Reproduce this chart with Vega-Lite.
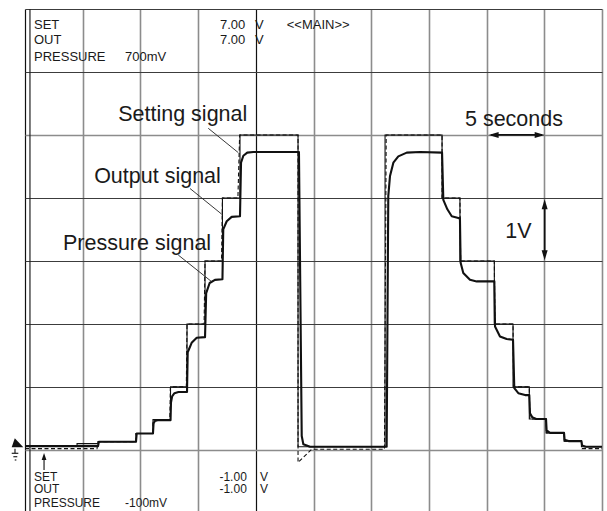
{
  "$schema": "https://vega.github.io/schema/vega-lite/v6.json",
  "width": 577,
  "height": 502,
  "autosize": {"type": "none"},
  "padding": {"left": 25, "top": 9, "right": 5, "bottom": 0},
  "config": {"view": {"stroke": null}, "font": "Liberation Sans", "text": {"font": "Liberation Sans"}},
  "datasets": {
    "setting": [
      {"t": 0, "v": 0.02}, {"t": 6.24, "v": 0.02}, {"t": 6.33, "v": 0.13}, {"t": 9.62, "v": 0.13},
      {"t": 9.62, "v": 0.26}, {"t": 11.09, "v": 0.26}, {"t": 11.09, "v": 0.48}, {"t": 12.55, "v": 0.48},
      {"t": 12.6, "v": 1.0}, {"t": 13.98, "v": 1.0}, {"t": 14.04, "v": 2.0}, {"t": 15.52, "v": 2.0},
      {"t": 15.6, "v": 3.0}, {"t": 17.03, "v": 3.0}, {"t": 17.11, "v": 4.0}, {"t": 18.45, "v": 4.0},
      {"t": 18.6, "v": 5.0}, {"t": 23.66, "v": 5.0}, {"t": 23.66, "v": -0.2}, {"t": 24.84, "v": 0.01},
      {"t": 31.15, "v": 0.01}, {"t": 31.3, "v": 5.0}, {"t": 36.14, "v": 5.0}, {"t": 36.14, "v": 4.0},
      {"t": 37.69, "v": 4.0}, {"t": 37.75, "v": 3.0}, {"t": 40.67, "v": 3.0}, {"t": 40.72, "v": 2.0},
      {"t": 42.29, "v": 2.0}, {"t": 42.34, "v": 1.0}, {"t": 43.7, "v": 1.0}, {"t": 43.75, "v": 0.49},
      {"t": 45.15, "v": 0.49}, {"t": 45.2, "v": 0.27}, {"t": 46.71, "v": 0.27}, {"t": 46.76, "v": 0.14},
      {"t": 48.22, "v": 0.14}, {"t": 48.27, "v": 0.02}, {"t": 50, "v": 0.02}
    ],
    "output": [
      {"t": 0, "v": 0.06}, {"t": 4.51, "v": 0.06}, {"t": 4.51, "v": 0.1}, {"t": 6.33, "v": 0.1},
      {"t": 6.33, "v": 0.13}, {"t": 9.62, "v": 0.13}, {"t": 9.62, "v": 0.26}, {"t": 11.09, "v": 0.26},
      {"t": 11.09, "v": 0.48}, {"t": 12.61, "v": 0.48}, {"t": 12.61, "v": 1.0}, {"t": 14.04, "v": 1.0},
      {"t": 14.04, "v": 2.0}, {"t": 15.6, "v": 2.0}, {"t": 15.6, "v": 3.0}, {"t": 17.11, "v": 3.0},
      {"t": 17.11, "v": 4.0}, {"t": 18.63, "v": 4.0}, {"t": 18.63, "v": 5.0}, {"t": 23.66, "v": 5.0},
      {"t": 23.66, "v": 0.05}, {"t": 31.2, "v": 0.05}, {"t": 31.2, "v": 5.0}, {"t": 36.14, "v": 5.0},
      {"t": 36.14, "v": 4.0}, {"t": 37.69, "v": 4.0}, {"t": 37.69, "v": 3.0}, {"t": 40.67, "v": 3.0},
      {"t": 40.67, "v": 2.0}, {"t": 42.29, "v": 2.0}, {"t": 42.29, "v": 1.0}, {"t": 43.7, "v": 1.0},
      {"t": 43.7, "v": 0.49}, {"t": 45.15, "v": 0.49}, {"t": 45.15, "v": 0.27}, {"t": 46.71, "v": 0.27},
      {"t": 46.71, "v": 0.14}, {"t": 48.22, "v": 0.14}, {"t": 48.22, "v": 0.05}, {"t": 50, "v": 0.05}
    ],
    "pressure": [
      {"t": 0, "v": 0.06}, {"t": 6.33, "v": 0.06}, {"t": 6.4, "v": 0.13}, {"t": 9.62, "v": 0.13},
      {"t": 9.68, "v": 0.26}, {"t": 11.09, "v": 0.26}, {"t": 11.14, "v": 0.42}, {"t": 11.25, "v": 0.46},
      {"t": 11.5, "v": 0.47}, {"t": 12.61, "v": 0.47}, {"t": 12.65, "v": 0.75}, {"t": 12.75, "v": 0.85},
      {"t": 12.95, "v": 0.9}, {"t": 13.3, "v": 0.92}, {"t": 14.04, "v": 0.92}, {"t": 14.1, "v": 1.55},
      {"t": 14.44, "v": 1.7}, {"t": 14.88, "v": 1.78}, {"t": 15.6, "v": 1.79}, {"t": 15.7, "v": 2.49},
      {"t": 16.0, "v": 2.65}, {"t": 16.46, "v": 2.7}, {"t": 17.11, "v": 2.71}, {"t": 17.18, "v": 3.5},
      {"t": 17.48, "v": 3.63}, {"t": 17.91, "v": 3.7}, {"t": 18.63, "v": 3.71}, {"t": 18.72, "v": 4.56},
      {"t": 18.92, "v": 4.67}, {"t": 19.26, "v": 4.72}, {"t": 19.78, "v": 4.73}, {"t": 23.74, "v": 4.73},
      {"t": 23.98, "v": 0.22}, {"t": 24.12, "v": 0.09}, {"t": 24.7, "v": 0.05}, {"t": 31.34, "v": 0.05},
      {"t": 31.48, "v": 4.03}, {"t": 31.63, "v": 4.35}, {"t": 31.92, "v": 4.56}, {"t": 32.35, "v": 4.66},
      {"t": 33.08, "v": 4.72}, {"t": 34.23, "v": 4.73}, {"t": 36.14, "v": 4.72}, {"t": 36.25, "v": 3.97},
      {"t": 36.6, "v": 3.82}, {"t": 36.98, "v": 3.71}, {"t": 37.55, "v": 3.68}, {"t": 37.69, "v": 3.68},
      {"t": 37.75, "v": 2.97}, {"t": 37.98, "v": 2.81}, {"t": 38.56, "v": 2.7}, {"t": 39.14, "v": 2.675},
      {"t": 40.67, "v": 2.675}, {"t": 40.73, "v": 1.96}, {"t": 41.16, "v": 1.8}, {"t": 41.74, "v": 1.76},
      {"t": 42.29, "v": 1.75}, {"t": 42.4, "v": 0.98}, {"t": 42.75, "v": 0.9}, {"t": 43.33, "v": 0.87},
      {"t": 43.7, "v": 0.87}, {"t": 43.76, "v": 0.58}, {"t": 43.95, "v": 0.52}, {"t": 44.3, "v": 0.49},
      {"t": 45.15, "v": 0.49}, {"t": 45.2, "v": 0.31}, {"t": 45.5, "v": 0.27}, {"t": 46.71, "v": 0.27},
      {"t": 46.76, "v": 0.16}, {"t": 47.1, "v": 0.14}, {"t": 48.22, "v": 0.14}, {"t": 48.27, "v": 0.07},
      {"t": 48.6, "v": 0.05}, {"t": 50, "v": 0.05}
    ],
    "leaders": [
      {"t": 15.88, "v": 5.106, "t2": 18.48, "v2": 4.72},
      {"t": 14.3, "v": 4.15, "t2": 17.13, "v2": 3.73},
      {"t": 13.28, "v": 3.094, "t2": 16.18, "v2": 2.67}
    ],
    "arrows": [
      {"t": 40.4, "v": 5.0, "t2": 44.8, "v2": 5.0},
      {"t": 45.03, "v": 3.9, "t2": 45.03, "v2": 3.08}
    ],
    "thin": [
      {"t": 0.43, "v": -0.97, "t2": 0.43, "v2": 7},
      {"t": -0.867, "v": 0.02, "t2": -0.867, "v2": -0.054},
      {"t": -1.15, "v": -0.054, "t2": -0.58, "v2": -0.054},
      {"t": -1.01, "v": -0.108, "t2": -0.67, "v2": -0.108},
      {"t": -0.89, "v": -0.16, "t2": -0.75, "v2": -0.16},
      {"t": 1.65, "v": -0.12, "t2": 1.65, "v2": -0.32}
    ],
    "heads": [
      {"t": 40.61, "v": 5.0, "dir": "left"},
      {"t": 44.6, "v": 5.0, "dir": "right"},
      {"t": 45.03, "v": 3.9, "dir": "up"},
      {"t": 45.03, "v": 3.09, "dir": "down"},
      {"t": 1.65, "v": -0.105, "dir": "trigger"},
      {"t": -0.65, "v": 0.11, "dir": "flag"}
    ],
    "notes": [
      {"t": 13.67, "v": 5.22, "label": "Setting signal"},
      {"t": 11.48, "v": 4.23, "label": "Output signal"},
      {"t": 9.71, "v": 3.18, "label": "Pressure signal"},
      {"t": 42.37, "v": 5.14, "label": "5 seconds"},
      {"t": 42.75, "v": 3.36, "label": "1V"}
    ],
    "header": [
      {"t": 0.78, "v": 6.68, "label": "SET"},
      {"t": 0.78, "v": 6.44, "label": "OUT"},
      {"t": 0.78, "v": 6.17, "label": "PRESSURE"},
      {"t": 8.67, "v": 6.17, "label": "700mV"},
      {"t": 16.9, "v": 6.68, "label": "7.00"},
      {"t": 16.9, "v": 6.44, "label": "7.00"},
      {"t": 19.93, "v": 6.68, "label": "V"},
      {"t": 19.93, "v": 6.44, "label": "V"},
      {"t": 22.68, "v": 6.68, "label": "<<MAIN>>"}
    ],
    "footer": [
      {"t": 0.78, "v": -0.49, "label": "SET"},
      {"t": 0.78, "v": -0.69, "label": "OUT"},
      {"t": 0.78, "v": -0.9, "label": "PRESSURE"},
      {"t": 8.67, "v": -0.9, "label": "-100mV"},
      {"t": 16.85, "v": -0.49, "label": "-1.00"},
      {"t": 16.85, "v": -0.69, "label": "-1.00"},
      {"t": 20.36, "v": -0.49, "label": "V"},
      {"t": 20.36, "v": -0.69, "label": "V"}
    ]
  },
  "encoding": {
    "x": {
      "field": "t", "type": "quantitative",
      "scale": {"domain": [0, 50], "nice": false, "zero": false},
      "axis": {
        "values": [0, 5, 10, 15, 20, 25, 30, 35, 40, 45, 50],
        "grid": true, "labels": false, "ticks": false, "domain": false, "title": null,
        "gridOpacity": 1,
        "gridColor": {"condition": {"test": "datum.value === 20 || datum.value === 0", "value": "#111111"}, "value": "#8c8c8c"},
        "gridWidth": {"condition": {"test": "datum.value === 20 || datum.value === 0", "value": 1.2}, "value": 1.6}
      }
    },
    "y": {
      "field": "v", "type": "quantitative",
      "scale": {"domain": [-0.97, 7], "nice": false, "zero": false},
      "axis": {
        "values": [0, 1, 2, 3, 4, 5, 6, 7],
        "grid": true, "labels": false, "ticks": false, "domain": false, "title": null,
        "gridOpacity": 1,
        "gridColor": {"condition": {"test": "datum.value === 0 || datum.value === 5", "value": "#8c8c8c"}, "value": "#3c3c3c"},
        "gridWidth": {"condition": {"test": "datum.value === 0 || datum.value === 5", "value": 1.6}, "value": 1.2}
      }
    }
  },
  "layer": [
    {
      "data": {"name": "thin"},
      "mark": {"type": "rule", "color": "#222222", "strokeWidth": 1.2},
      "encoding": {"x2": {"field": "t2"}, "y2": {"field": "v2"}}
    },
    {
      "data": {"name": "pressure"},
      "mark": {"type": "line", "color": "#111111", "strokeWidth": 2.1, "strokeJoin": "round"},
      "encoding": {"order": {"value": null}}
    },
    {
      "data": {"name": "output"},
      "mark": {"type": "line", "color": "#111111", "strokeWidth": 1.1},
      "encoding": {"order": {"value": null}}
    },
    {
      "data": {"name": "setting"},
      "mark": {"type": "line", "color": "#111111", "strokeWidth": 1.1, "strokeDash": [4, 2.5]},
      "encoding": {"order": {"value": null}}
    },
    {
      "data": {"name": "leaders"},
      "mark": {"type": "rule", "color": "#222222", "strokeWidth": 0.9},
      "encoding": {"x2": {"field": "t2"}, "y2": {"field": "v2"}}
    },
    {
      "data": {"name": "arrows"},
      "mark": {"type": "rule", "color": "#111111", "strokeWidth": 1.8},
      "encoding": {"x2": {"field": "t2"}, "y2": {"field": "v2"}}
    },
    {
      "data": {"name": "heads"},
      "mark": {"type": "point", "filled": true, "color": "#111111", "opacity": 1, "size": 144},
      "encoding": {
        "shape": {
          "field": "dir", "type": "nominal", "legend": null,
          "scale": {
            "domain": ["left", "right", "up", "down", "trigger", "flag"],
            "range": [
              "M -0.83 0 L 0.83 -0.5 L 0.83 0.5 Z",
              "M 0.83 0 L -0.83 -0.5 L -0.83 0.5 Z",
              "M 0 -0.83 L -0.5 0.83 L 0.5 0.83 Z",
              "M 0 0.83 L -0.5 -0.83 L 0.5 -0.83 Z",
              "M 0 -0.6 L -0.4 0.6 L 0.4 0.6 Z",
              "M -0.97 0.7 L -0.45 -0.78 L 0.97 0.7 Z"
            ]
          }
        }
      }
    },
    {
      "data": {"name": "notes"},
      "mark": {"type": "text", "fontSize": 21.5, "align": "center", "baseline": "alphabetic", "color": "#1a1a1a"},
      "encoding": {"text": {"field": "label"}}
    },
    {
      "data": {"name": "header"},
      "mark": {"type": "text", "fontSize": 13, "align": "left", "baseline": "alphabetic", "color": "#1a1a1a"},
      "encoding": {"text": {"field": "label"}}
    },
    {
      "data": {"name": "footer"},
      "mark": {"type": "text", "fontSize": 12, "align": "left", "baseline": "alphabetic", "color": "#1a1a1a"},
      "encoding": {"text": {"field": "label"}}
    }
  ]
}
